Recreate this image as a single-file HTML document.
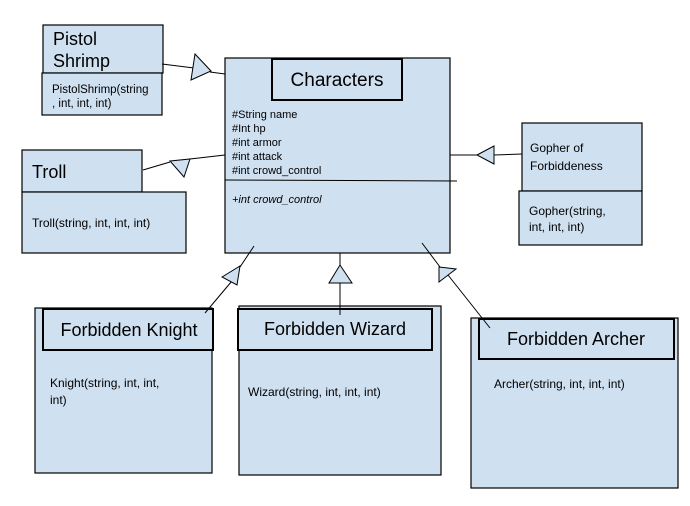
<!DOCTYPE html>
<html><head><style>
body{margin:0;background:#fff;}
svg{display:block;font-family:"Liberation Sans",Arial,sans-serif;}
.b{fill:#cfe0f1;stroke:#000;stroke-width:1.2;}
.h{fill:#cfe0f1;stroke:#000;stroke-width:2;}
.l{stroke:#000;stroke-width:1;fill:none;}
.t{fill:#cfe0f1;stroke:#000;stroke-width:1;}
</style></head><body>
<svg width="690" height="506" viewBox="0 0 690 506">
<!-- Characters -->
<rect class="b" x="225" y="58" width="225" height="195"/>
<rect class="h" x="272" y="59" width="130" height="41"/>
<text x="337" y="86" font-size="19" text-anchor="middle">Characters</text>
<g font-size="11">
<text x="232" y="118">#String name</text>
<text x="232" y="132">#Int hp</text>
<text x="232" y="146">#int armor</text>
<text x="232" y="160">#int attack</text>
<text x="232" y="174">#int crowd_control</text>
<text x="232" y="203" font-style="italic">+int crowd_control</text>
</g>
<line class="l" x1="225" y1="180" x2="457" y2="181"/>

<!-- Pistol Shrimp -->
<rect class="b" x="43" y="25" width="120" height="48"/>
<text x="53" y="45" font-size="18">Pistol</text>
<text x="53" y="67" font-size="18">Shrimp</text>
<rect class="b" x="42" y="73" width="120" height="42"/>
<text x="52" y="93" font-size="11.5">PistolShrimp(string</text>
<text x="52" y="107" font-size="11.5">, int, int, int)</text>
<line class="l" x1="162" y1="64" x2="210" y2="70"/>
<line class="l" x1="210" y1="72" x2="225" y2="74"/>
<polygon class="t" points="195,54 211,71 191,80"/>

<!-- Troll -->
<rect class="b" x="22" y="150" width="120" height="42"/>
<text x="32" y="178" font-size="18">Troll</text>
<rect class="b" x="22" y="192" width="164" height="61"/>
<text x="32" y="227" font-size="12">Troll(string, int, int, int)</text>
<line class="l" x1="143" y1="170" x2="170" y2="162"/>
<line class="l" x1="190" y1="159" x2="225" y2="155"/>
<polygon class="t" points="170,161 190,159 184,177"/>

<!-- Gopher -->
<rect class="b" x="522" y="123" width="120" height="68"/>
<text x="530" y="152" font-size="12">Gopher of</text>
<text x="530" y="170" font-size="12">Forbiddeness</text>
<rect class="b" x="519" y="191" width="123" height="54"/>
<text x="529" y="215" font-size="12">Gopher(string,</text>
<text x="529" y="231" font-size="12">int, int, int)</text>
<line class="l" x1="450" y1="155" x2="477" y2="155"/>
<line class="l" x1="494" y1="155" x2="522" y2="154"/>
<polygon class="t" points="477,155 494,146 494,164"/>

<!-- Knight -->
<rect class="b" x="35" y="308" width="177" height="165"/>
<rect class="h" x="43" y="309" width="170" height="41"/>
<text x="129" y="336" font-size="18" text-anchor="middle">Forbidden Knight</text>
<text x="50" y="387" font-size="12">Knight(string, int, int,</text>
<text x="50" y="404" font-size="12">int)</text>
<line class="l" x1="205" y1="313" x2="237" y2="275"/>
<line class="l" x1="240" y1="267" x2="254" y2="246"/>
<polygon class="t" points="222,277 240,266 237,285"/>

<!-- Wizard -->
<rect class="b" x="239" y="306" width="202" height="169"/>
<rect class="h" x="238" y="309" width="194" height="41"/>
<text x="335" y="335" font-size="18" text-anchor="middle">Forbidden Wizard</text>
<text x="248" y="396" font-size="12">Wizard(string, int, int, int)</text>
<line class="l" x1="340" y1="253" x2="340" y2="265"/>
<line class="l" x1="340" y1="283" x2="340" y2="315"/>
<polygon class="t" points="340,265 329,283 352,283"/>

<!-- Archer -->
<rect class="b" x="471" y="318" width="207" height="170"/>
<rect class="h" x="479" y="319" width="195" height="40"/>
<text x="576" y="345" font-size="18" text-anchor="middle">Forbidden Archer</text>
<text x="494" y="388" font-size="12">Archer(string, int, int, int)</text>
<line class="l" x1="490" y1="328" x2="448" y2="275"/>
<line class="l" x1="440" y1="267" x2="422" y2="243"/>
<polygon class="t" points="439,267 456,269 439,282"/>
</svg>
</body></html>
